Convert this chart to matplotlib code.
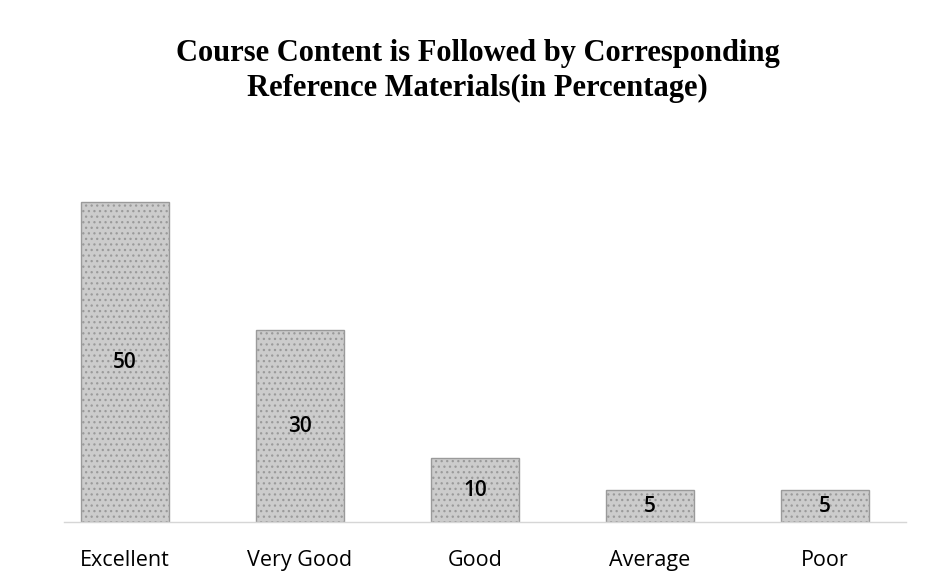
import matplotlib.pyplot as plt

categories = ['Excellent', 'Very Good', 'Good', 'Average', 'Poor']
percentages = [50, 30, 10, 5, 5]

plt.rcParams['hatch.color'] = '#a4a4a4'
plt.rcParams['hatch.linewidth'] = 0.9

fig = plt.figure(figsize=(9.33, 5.86), dpi=100)
ax = fig.add_axes([37.5 / 933, 64 / 586, 875 / 933, 384 / 586])

bars = ax.bar(range(len(categories)), percentages, width=0.5,
              color='#cccccc', edgecolor='#9a9a9a', linewidth=1.0, hatch='...')
ax.bar_label(bars, labels=[str(v) for v in percentages], label_type='center',
             fontsize=15, fontfamily='Open Sans', fontweight='semibold', color='black')

ax.set_xlim(-0.5, 4.5)
ax.set_ylim(0, 60)
ax.set_yticks([])
ax.set_xticks(range(len(categories)))
ax.set_xticklabels(categories, fontsize=15.5, fontfamily='Open Sans')
ax.tick_params(axis='x', length=0, pad=20)

for side in ['top', 'left', 'right']:
    ax.spines[side].set_visible(False)
ax.spines['bottom'].set_color('#d6d6d6')
ax.spines['bottom'].set_linewidth(1.0)
ax.spines['bottom'].set_bounds(-0.35, 4.46)

fig.text(0.512, 0.879, 'Course Content is Followed by Corresponding\nReference Materials(in Percentage)',
         ha='center', va='center', fontsize=22, fontweight='bold',
         fontfamily='Liberation Serif', linespacing=1.25)

fig.savefig('out.png', dpi=100)
